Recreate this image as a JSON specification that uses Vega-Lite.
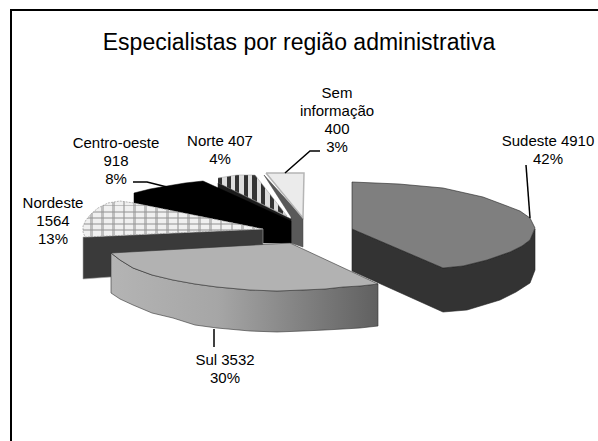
{"$schema":"https://vega.github.io/schema/vega-lite/v6.json","width":598,"height":441,"padding":0,"autosize":"none","background":"white","config":{"view":{"stroke":null},"font":"Liberation Sans"},"title":{"text":"Especialistas por região administrativa","font":"Liberation Sans","fontSize":23,"fontWeight":"normal","color":"#000","anchor":"middle","frame":"group","baseline":"alphabetic","offset":-73},"datasets":{"regions":[{"region":"Sudeste","value":4910,"share":"42%","lines":["Sudeste  4910","42%"],"lx":548,"ly":134},{"region":"Sul","value":3532,"share":"30%","lines":["Sul 3532","30%"],"lx":225,"ly":353},{"region":"Nordeste","value":1564,"share":"13%","lines":["Nordeste","1564","13%"],"lx":53,"ly":196},{"region":"Centro-oeste","value":918,"share":"8%","lines":["Centro-oeste","918","8%"],"lx":116,"ly":136},{"region":"Norte","value":407,"share":"4%","lines":["Norte 407","4%"],"lx":220,"ly":134},{"region":"Sem informação","value":400,"share":"3%","lines":["Sem","informação","400","3%"],"lx":337,"ly":86}],"outline":[
{"p":"frame","i":0,"x":598,"y":10},{"p":"frame","i":1,"x":11,"y":10},{"p":"frame","i":2,"x":11,"y":441},
{"p":"leadSudeste","i":0,"x":526,"y":165},{"p":"leadSudeste","i":1,"x":530,"y":218},
{"p":"leadSem","i":0,"x":285,"y":173},{"p":"leadSem","i":1,"x":310,"y":151},{"p":"leadSem","i":2,"x":320,"y":151},
{"p":"leadCentro","i":0,"x":133,"y":182},{"p":"leadCentro","i":1,"x":147,"y":182},{"p":"leadCentro","i":2,"x":167,"y":187},
{"p":"leadSul","i":0,"x":214,"y":329},{"p":"leadSul","i":1,"x":214,"y":347},
{"p":"semTop","i":0,"x":266,"y":173},{"p":"semTop","i":1,"x":304,"y":173},{"p":"semTop","i":2,"x":303,"y":218},{"p":"semTop","i":3,"x":266,"y":173},
{"p":"semSide","i":0,"x":264,"y":175},{"p":"semSide","i":1,"x":303,"y":218},{"p":"semSide","i":2,"x":303,"y":247},{"p":"semSide","i":3,"x":291,"y":243},{"p":"semSide","i":4,"x":291,"y":217},{"p":"semSide","i":5,"x":264,"y":175},
{"p":"norteTop","i":0,"x":218,"y":178},{"p":"norteTop","i":1,"x":237,"y":175},{"p":"norteTop","i":2,"x":255,"y":175},{"p":"norteTop","i":3,"x":287,"y":216},{"p":"norteTop","i":4,"x":218,"y":183},
{"p":"norteSide","i":0,"x":218,"y":183},{"p":"norteSide","i":1,"x":291,"y":219},{"p":"norteSide","i":2,"x":291,"y":243},{"p":"norteSide","i":3,"x":218,"y":205},{"p":"norteSide","i":4,"x":218,"y":183},
{"p":"centro","i":0,"x":134,"y":193},{"p":"centro","i":1,"x":150,"y":189},{"p":"centro","i":2,"x":167,"y":186},{"p":"centro","i":3,"x":185,"y":183},{"p":"centro","i":4,"x":203,"y":181},{"p":"centro","i":5,"x":291,"y":221},{"p":"centro","i":6,"x":291,"y":243},{"p":"centro","i":7,"x":263,"y":243},{"p":"centro","i":8,"x":263,"y":229},{"p":"centro","i":9,"x":134,"y":203},{"p":"centro","i":10,"x":134,"y":193},
{"p":"nordesteSide","i":0,"x":263,"y":229},{"p":"nordesteSide","i":1,"x":85,"y":237},{"p":"nordesteSide","i":2,"x":83,"y":237},{"p":"nordesteSide","i":3,"x":83,"y":279},{"p":"nordesteSide","i":4,"x":111,"y":277},{"p":"nordesteSide","i":5,"x":263,"y":270},{"p":"nordesteSide","i":6,"x":263,"y":229},
{"p":"nordesteTop","i":0,"x":263,"y":229},{"p":"nordesteTop","i":1,"x":134,"y":203},{"p":"nordesteTop","i":2,"x":120,"y":201},{"p":"nordesteTop","i":3,"x":108,"y":203},{"p":"nordesteTop","i":4,"x":98,"y":208},{"p":"nordesteTop","i":5,"x":91,"y":214},{"p":"nordesteTop","i":6,"x":86,"y":220},{"p":"nordesteTop","i":7,"x":83,"y":226},{"p":"nordesteTop","i":8,"x":83,"y":232},{"p":"nordesteTop","i":9,"x":85,"y":237},{"p":"nordesteTop","i":10,"x":263,"y":229},
{"p":"sudesteSide","i":0,"x":352,"y":229},{"p":"sudesteSide","i":1,"x":443,"y":268},{"p":"sudesteSide","i":2,"x":463,"y":266},{"p":"sudesteSide","i":3,"x":487,"y":260},{"p":"sudesteSide","i":4,"x":510,"y":252},{"p":"sudesteSide","i":5,"x":522,"y":246},{"p":"sudesteSide","i":6,"x":530,"y":240},{"p":"sudesteSide","i":7,"x":535,"y":229},{"p":"sudesteSide","i":8,"x":535,"y":270},{"p":"sudesteSide","i":9,"x":530,"y":283},{"p":"sudesteSide","i":10,"x":516,"y":292},{"p":"sudesteSide","i":11,"x":500,"y":300},{"p":"sudesteSide","i":12,"x":467,"y":310},{"p":"sudesteSide","i":13,"x":443,"y":312},{"p":"sudesteSide","i":14,"x":352,"y":271},{"p":"sudesteSide","i":15,"x":352,"y":229},
{"p":"sudesteTop","i":0,"x":352,"y":182},{"p":"sudesteTop","i":1,"x":399,"y":184},{"p":"sudesteTop","i":2,"x":443,"y":188},{"p":"sudesteTop","i":3,"x":483,"y":197},{"p":"sudesteTop","i":4,"x":507,"y":206},{"p":"sudesteTop","i":5,"x":520,"y":211},{"p":"sudesteTop","i":6,"x":530,"y":218},{"p":"sudesteTop","i":7,"x":535,"y":228},{"p":"sudesteTop","i":8,"x":530,"y":240},{"p":"sudesteTop","i":9,"x":522,"y":246},{"p":"sudesteTop","i":10,"x":510,"y":252},{"p":"sudesteTop","i":11,"x":487,"y":260},{"p":"sudesteTop","i":12,"x":463,"y":266},{"p":"sudesteTop","i":13,"x":443,"y":268},{"p":"sudesteTop","i":14,"x":352,"y":229},{"p":"sudesteTop","i":15,"x":352,"y":182},
{"p":"sulSide","i":0,"x":111,"y":253},{"p":"sulSide","i":1,"x":120,"y":260},{"p":"sulSide","i":2,"x":133,"y":268},{"p":"sulSide","i":3,"x":152,"y":275},{"p":"sulSide","i":4,"x":173,"y":280},{"p":"sulSide","i":5,"x":195,"y":284},{"p":"sulSide","i":6,"x":217,"y":287},{"p":"sulSide","i":7,"x":250,"y":290},{"p":"sulSide","i":8,"x":277,"y":291},{"p":"sulSide","i":9,"x":303,"y":290},{"p":"sulSide","i":10,"x":325,"y":289},{"p":"sulSide","i":11,"x":343,"y":287},{"p":"sulSide","i":12,"x":360,"y":286},{"p":"sulSide","i":13,"x":378,"y":284},{"p":"sulSide","i":14,"x":378,"y":326},{"p":"sulSide","i":15,"x":360,"y":328},{"p":"sulSide","i":16,"x":343,"y":329},{"p":"sulSide","i":17,"x":325,"y":330},{"p":"sulSide","i":18,"x":303,"y":331},{"p":"sulSide","i":19,"x":277,"y":332},{"p":"sulSide","i":20,"x":250,"y":331},{"p":"sulSide","i":21,"x":217,"y":328},{"p":"sulSide","i":22,"x":195,"y":325},{"p":"sulSide","i":23,"x":173,"y":318},{"p":"sulSide","i":24,"x":152,"y":313},{"p":"sulSide","i":25,"x":133,"y":305},{"p":"sulSide","i":26,"x":120,"y":299},{"p":"sulSide","i":27,"x":111,"y":293},{"p":"sulSide","i":28,"x":111,"y":253},
{"p":"sulTop","i":0,"x":290,"y":243},{"p":"sulTop","i":1,"x":111,"y":253},{"p":"sulTop","i":2,"x":120,"y":260},{"p":"sulTop","i":3,"x":133,"y":268},{"p":"sulTop","i":4,"x":152,"y":275},{"p":"sulTop","i":5,"x":173,"y":280},{"p":"sulTop","i":6,"x":195,"y":284},{"p":"sulTop","i":7,"x":217,"y":287},{"p":"sulTop","i":8,"x":250,"y":290},{"p":"sulTop","i":9,"x":277,"y":291},{"p":"sulTop","i":10,"x":303,"y":290},{"p":"sulTop","i":11,"x":325,"y":289},{"p":"sulTop","i":12,"x":343,"y":287},{"p":"sulTop","i":13,"x":360,"y":286},{"p":"sulTop","i":14,"x":378,"y":284},{"p":"sulTop","i":15,"x":290,"y":243}
]},"data":{"name":"outline"},"encoding":{"x":{"field":"x","type":"quantitative","scale":{"domain":[0,598],"nice":false,"zero":false},"axis":null},"y":{"field":"y","type":"quantitative","scale":{"domain":[441,0],"nice":false,"zero":false},"axis":null},"order":{"field":"i","type":"quantitative"}},"layer":[
{"transform":[{"filter":"datum.p==='semSide'"}],"mark":{"type":"line","fill":"#595959","stroke":"#444","strokeWidth":0.5}},
{"transform":[{"filter":"datum.p==='semTop'"}],"mark":{"type":"line","fill":"#ebebeb","stroke":"#b5b5b5","strokeWidth":1.5}},
{"transform":[{"filter":"datum.p==='norteTop'"}],"mark":{"type":"line","stroke":"#999","strokeWidth":0.5,"fill":{"gradient":"linear","x1":0,"x2":1,"y1":0,"y2":0,"stops":[{"offset":0,"color":"#333"},{"offset":0.06,"color":"#333"},{"offset":0.06,"color":"#ddd"},{"offset":0.125,"color":"#ddd"},{"offset":0.125,"color":"#333"},{"offset":0.185,"color":"#333"},{"offset":0.185,"color":"#ddd"},{"offset":0.25,"color":"#ddd"},{"offset":0.25,"color":"#333"},{"offset":0.31,"color":"#333"},{"offset":0.31,"color":"#ddd"},{"offset":0.375,"color":"#ddd"},{"offset":0.375,"color":"#333"},{"offset":0.435,"color":"#333"},{"offset":0.435,"color":"#ddd"},{"offset":0.5,"color":"#ddd"},{"offset":0.5,"color":"#333"},{"offset":0.56,"color":"#333"},{"offset":0.56,"color":"#ddd"},{"offset":0.625,"color":"#ddd"},{"offset":0.625,"color":"#333"},{"offset":0.685,"color":"#333"},{"offset":0.685,"color":"#ddd"},{"offset":0.75,"color":"#ddd"},{"offset":0.75,"color":"#333"},{"offset":0.81,"color":"#333"},{"offset":0.81,"color":"#ddd"},{"offset":0.875,"color":"#ddd"},{"offset":0.875,"color":"#333"},{"offset":0.935,"color":"#333"},{"offset":0.935,"color":"#ddd"},{"offset":1,"color":"#ddd"}]}}},
{"transform":[{"filter":"datum.p==='norteSide'"}],"mark":{"type":"line","fill":"#1c1c1c","stroke":"#1c1c1c","strokeWidth":0.5}},
{"transform":[{"filter":"datum.p==='centro'"}],"mark":{"type":"line","fill":"#000","stroke":"#000","strokeWidth":0.5}},
{"transform":[{"filter":"datum.p==='nordesteSide'"}],"mark":{"type":"line","fill":"#3a3a3a","stroke":"#aaa","strokeWidth":0.6}},
{"transform":[{"filter":"datum.p==='nordesteTop'"}],"mark":{"type":"line","stroke":"#888","strokeWidth":0.6,"strokeDash":[2,1],"fill":{"gradient":"linear","x1":0,"x2":0,"y1":0,"y2":1,"stops":[{"offset":0,"color":"#f0f0f0"},{"offset":0.1,"color":"#f0f0f0"},{"offset":0.1,"color":"#c0c0c0"},{"offset":0.15,"color":"#c0c0c0"},{"offset":0.15,"color":"#f0f0f0"},{"offset":0.27,"color":"#f0f0f0"},{"offset":0.27,"color":"#c0c0c0"},{"offset":0.32,"color":"#c0c0c0"},{"offset":0.32,"color":"#f0f0f0"},{"offset":0.44,"color":"#f0f0f0"},{"offset":0.44,"color":"#c0c0c0"},{"offset":0.49,"color":"#c0c0c0"},{"offset":0.49,"color":"#f0f0f0"},{"offset":0.61,"color":"#f0f0f0"},{"offset":0.61,"color":"#c0c0c0"},{"offset":0.66,"color":"#c0c0c0"},{"offset":0.66,"color":"#f0f0f0"},{"offset":0.78,"color":"#f0f0f0"},{"offset":0.78,"color":"#c0c0c0"},{"offset":0.83,"color":"#c0c0c0"},{"offset":0.83,"color":"#f0f0f0"},{"offset":1,"color":"#f0f0f0"}]}}},
{"transform":[{"filter":"datum.p==='nordesteTop'"}],"mark":{"type":"line","strokeOpacity":0,"fill":{"gradient":"linear","x1":0,"x2":1,"y1":0,"y2":0,"stops":[{"offset":0,"color":"rgba(150,150,150,0)"},{"offset":0.04,"color":"rgba(150,150,150,0)"},{"offset":0.04,"color":"rgba(150,150,150,0.55)"},{"offset":0.055,"color":"rgba(150,150,150,0.55)"},{"offset":0.055,"color":"rgba(150,150,150,0)"},{"offset":0.1,"color":"rgba(150,150,150,0)"},{"offset":0.1,"color":"rgba(150,150,150,0.55)"},{"offset":0.115,"color":"rgba(150,150,150,0.55)"},{"offset":0.115,"color":"rgba(150,150,150,0)"},{"offset":0.16,"color":"rgba(150,150,150,0)"},{"offset":0.16,"color":"rgba(150,150,150,0.55)"},{"offset":0.175,"color":"rgba(150,150,150,0.55)"},{"offset":0.175,"color":"rgba(150,150,150,0)"},{"offset":0.22,"color":"rgba(150,150,150,0)"},{"offset":0.22,"color":"rgba(150,150,150,0.55)"},{"offset":0.235,"color":"rgba(150,150,150,0.55)"},{"offset":0.235,"color":"rgba(150,150,150,0)"},{"offset":0.28,"color":"rgba(150,150,150,0)"},{"offset":0.28,"color":"rgba(150,150,150,0.55)"},{"offset":0.295,"color":"rgba(150,150,150,0.55)"},{"offset":0.295,"color":"rgba(150,150,150,0)"},{"offset":0.34,"color":"rgba(150,150,150,0)"},{"offset":0.34,"color":"rgba(150,150,150,0.55)"},{"offset":0.355,"color":"rgba(150,150,150,0.55)"},{"offset":0.355,"color":"rgba(150,150,150,0)"},{"offset":0.4,"color":"rgba(150,150,150,0)"},{"offset":0.4,"color":"rgba(150,150,150,0.55)"},{"offset":0.415,"color":"rgba(150,150,150,0.55)"},{"offset":0.415,"color":"rgba(150,150,150,0)"},{"offset":0.46,"color":"rgba(150,150,150,0)"},{"offset":0.46,"color":"rgba(150,150,150,0.55)"},{"offset":0.475,"color":"rgba(150,150,150,0.55)"},{"offset":0.475,"color":"rgba(150,150,150,0)"},{"offset":0.52,"color":"rgba(150,150,150,0)"},{"offset":0.52,"color":"rgba(150,150,150,0.55)"},{"offset":0.535,"color":"rgba(150,150,150,0.55)"},{"offset":0.535,"color":"rgba(150,150,150,0)"},{"offset":0.58,"color":"rgba(150,150,150,0)"},{"offset":0.58,"color":"rgba(150,150,150,0.55)"},{"offset":0.595,"color":"rgba(150,150,150,0.55)"},{"offset":0.595,"color":"rgba(150,150,150,0)"},{"offset":0.64,"color":"rgba(150,150,150,0)"},{"offset":0.64,"color":"rgba(150,150,150,0.55)"},{"offset":0.655,"color":"rgba(150,150,150,0.55)"},{"offset":0.655,"color":"rgba(150,150,150,0)"},{"offset":0.7,"color":"rgba(150,150,150,0)"},{"offset":0.7,"color":"rgba(150,150,150,0.55)"},{"offset":0.715,"color":"rgba(150,150,150,0.55)"},{"offset":0.715,"color":"rgba(150,150,150,0)"},{"offset":0.76,"color":"rgba(150,150,150,0)"},{"offset":0.76,"color":"rgba(150,150,150,0.55)"},{"offset":0.775,"color":"rgba(150,150,150,0.55)"},{"offset":0.775,"color":"rgba(150,150,150,0)"},{"offset":0.82,"color":"rgba(150,150,150,0)"},{"offset":0.82,"color":"rgba(150,150,150,0.55)"},{"offset":0.835,"color":"rgba(150,150,150,0.55)"},{"offset":0.835,"color":"rgba(150,150,150,0)"},{"offset":0.88,"color":"rgba(150,150,150,0)"},{"offset":0.88,"color":"rgba(150,150,150,0.55)"},{"offset":0.895,"color":"rgba(150,150,150,0.55)"},{"offset":0.895,"color":"rgba(150,150,150,0)"},{"offset":0.94,"color":"rgba(150,150,150,0)"},{"offset":0.94,"color":"rgba(150,150,150,0.55)"},{"offset":0.955,"color":"rgba(150,150,150,0.55)"},{"offset":0.955,"color":"rgba(150,150,150,0)"},{"offset":1,"color":"rgba(150,150,150,0)"}]}}},
{"transform":[{"filter":"datum.p==='sudesteSide'"}],"mark":{"type":"line","fill":"#333","stroke":"#222","strokeWidth":0.6}},
{"transform":[{"filter":"datum.p==='sudesteTop'"}],"mark":{"type":"line","fill":"#7f7f7f","stroke":"#222","strokeWidth":0.6}},
{"transform":[{"filter":"datum.p==='sulSide'"}],"mark":{"type":"line","stroke":"#333","strokeWidth":0.6,"fill":{"gradient":"linear","x1":0,"x2":1,"y1":0,"y2":0,"stops":[{"offset":0,"color":"#b4b4b4"},{"offset":0.4,"color":"#a6a6a6"},{"offset":1,"color":"#606060"}]}}},
{"transform":[{"filter":"datum.p==='sulTop'"}],"mark":{"type":"line","fill":"#b2b2b2","stroke":"#333","strokeWidth":0.6}},
{"transform":[{"filter":"datum.p==='frame'"}],"mark":{"type":"line","stroke":"#000","strokeWidth":2}},
{"transform":[{"filter":"test(/^lead/,datum.p)"}],"mark":{"type":"line","stroke":"#000","strokeWidth":1.5},"encoding":{"detail":{"field":"p"}}},
{"data":{"name":"regions"},"mark":{"type":"text","font":"Liberation Sans","fontSize":15,"lineHeight":18,"align":"center","baseline":"top","color":"#000"},"encoding":{"x":{"field":"lx","type":"quantitative"},"y":{"field":"ly","type":"quantitative"},"text":{"field":"lines"},"order":null}}
]}
